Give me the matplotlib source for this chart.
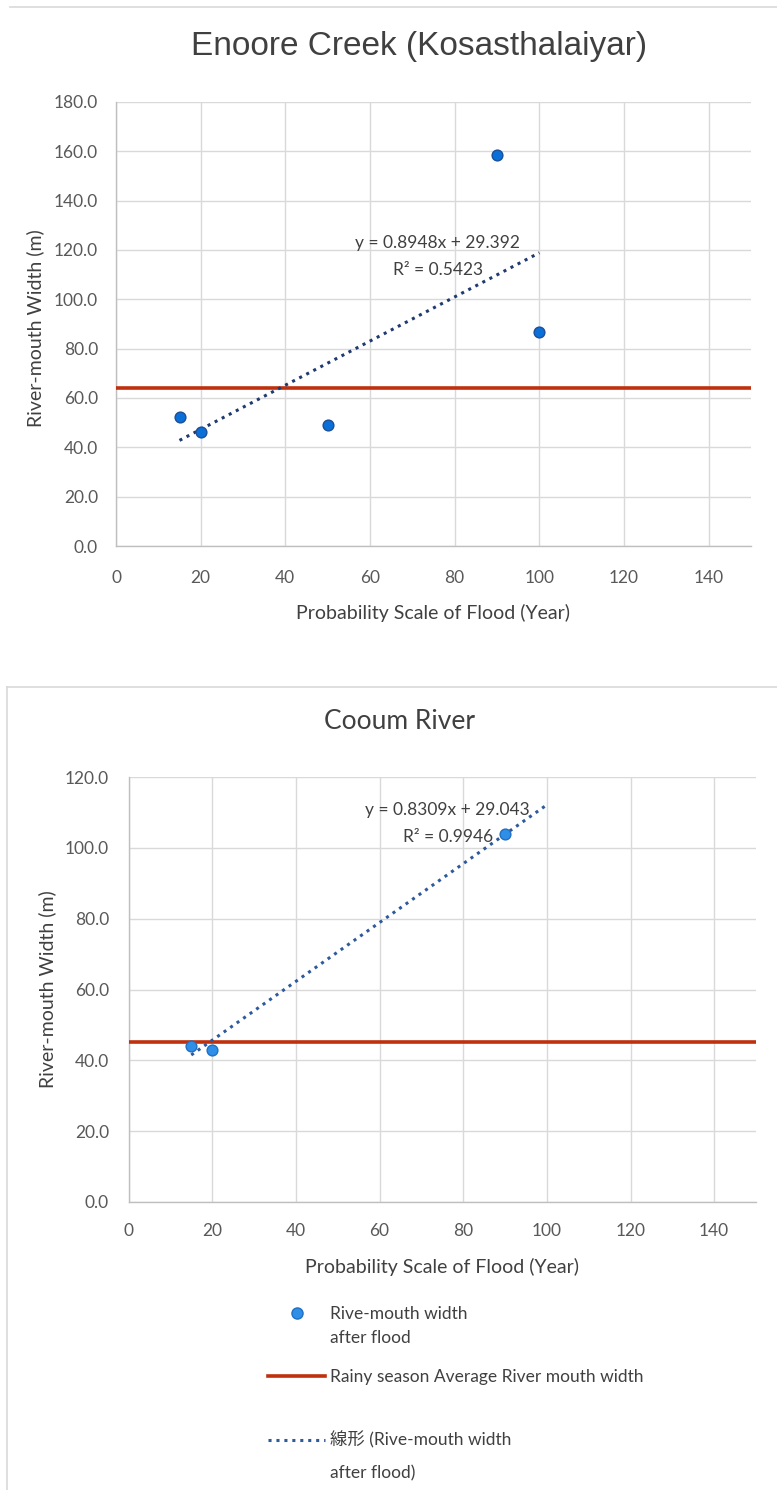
import matplotlib
matplotlib.use("Agg")
import matplotlib.pyplot as plt
from matplotlib.lines import Line2D
import numpy as np

# ---------------- data ----------------
enoore_x = [15, 20, 50, 90, 100]
enoore_y = [52.4, 46.3, 49.2, 158.5, 86.6]
enoore_avg = 64.0
enoore_slope = 0.8948
enoore_intercept = 29.392
enoore_eq = ["y = 0.8948x + 29.392", "R² = 0.5423"]

cooum_x = [15, 20, 90]
cooum_y = [44.0, 43.0, 104.0]
cooum_avg = 45.3
cooum_slope = 0.8309
cooum_intercept = 29.043
cooum_eq = ["y = 0.8309x + 29.043", "R² = 0.9946"]

x_ticks = [0, 20, 40, 60, 80, 100, 120, 140]
enoore_yticks = [0, 20, 40, 60, 80, 100, 120, 140, 160, 180]
cooum_yticks = [0, 20, 40, 60, 80, 100, 120]

xlabel = "Probability Scale of Flood (Year)"
ylabel = "River-mouth Width (m)"
legend_labels = ["Rive-mouth width", "Rainy season Average River mouth width",
                 "線形 (Rive-mouth width"]
legend_cont = ["after flood", "after flood)"]

# ---------------- styling ----------------
W, H = 777, 1490
FONT = ["Lato", "Noto Sans CJK JP", "DejaVu Sans"]
TXT = "#404040"
TICK = "#595959"
GRID = "#d9d9d9"
RED = "#C0300E"

fig = plt.figure(figsize=(W / 100, H / 100), dpi=100)
fig.patch.set_facecolor("white")


def fx(px):
    return px / W


def fy(py):
    return 1 - py / H


def style_axes(ax, yticks, ylim, ypad, xpad, xlabel_y):
    ax.set_xlim(0, 150)
    ax.set_ylim(*ylim)
    ax.set_xticks(x_ticks)
    ax.set_yticks(yticks)
    ax.set_yticklabels([f"{v:.1f}" for v in yticks])
    ax.set_xticklabels([str(v) for v in x_ticks])
    ax.grid(True, color=GRID, linewidth=1.0, zorder=0)
    ax.set_axisbelow(True)
    for s in ["top", "right"]:
        ax.spines[s].set_visible(False)
    for s in ["left", "bottom"]:
        ax.spines[s].set_color("#bfbfbf")
        ax.spines[s].set_linewidth(1.0)
    ax.tick_params(axis="both", length=0, labelsize=12.5, labelcolor=TICK)
    ax.tick_params(axis="y", pad=ypad)
    ax.tick_params(axis="x", pad=xpad)
    for lab in ax.get_xticklabels() + ax.get_yticklabels():
        lab.set_fontfamily(FONT)
    ax.set_xlabel(xlabel, fontsize=14, color=TXT, family=FONT, va="center")
    ax.xaxis.set_label_coords(0.5, xlabel_y)
    ax.set_ylabel(ylabel, fontsize=14, color=TXT, family=FONT, va="center")


# ---------------- top chart ----------------
ax1 = fig.add_axes([fx(116), fy(546), fx(751) - fx(116), fy(102) - fy(546)])
style_axes(ax1, enoore_yticks, (0, 180), 13, 17, -(613 - 546) / 444)
ax1.yaxis.set_label_coords(-(116 - 35) / 635, 0.49)
ax1.axhline(enoore_avg, color=RED, linewidth=2.6, zorder=3)
tx = np.array([min(enoore_x), max(enoore_x)])
ax1.plot(tx, enoore_slope * tx + enoore_intercept, color="#1F3A70",
         linestyle=(0, (1, 1.6)), linewidth=2.2, zorder=4)
ax1.scatter(enoore_x, enoore_y, s=60, color="#0A6FD6", edgecolor="#1A4F9A",
            linewidth=1.0, zorder=5)
ax1.text(76, 123, enoore_eq[0], ha="center", va="center", fontsize=12.5,
         color=TXT, family=FONT)
ax1.text(76, 112, enoore_eq[1], ha="center", va="center", fontsize=12.5,
         color=TXT, family=FONT)
fig.text(fx(419), fy(47), "Enoore Creek (Kosasthalaiyar)", ha="center",
         va="center", fontsize=24, color=TXT, family="Liberation Sans")

# ---------------- bottom chart ----------------
ax2 = fig.add_axes([fx(128.5), fy(1202), fx(756) - fx(128.5), fy(777) - fy(1202)])
style_axes(ax2, cooum_yticks, (0, 120), 14, 15, -(1267 - 1202) / 425)
ax2.yaxis.set_label_coords(-(128.5 - 47) / 627.5, 0.5)
ax2.axhline(cooum_avg, color=RED, linewidth=2.6, zorder=3)
tx2 = np.array([min(cooum_x), 100])
ax2.plot(tx2, cooum_slope * tx2 + cooum_intercept, color="#2E5A9C",
         linestyle=(0, (1, 1.6)), linewidth=2.2, zorder=4)
ax2.scatter(cooum_x, cooum_y, s=60, color="#2F8FE8", edgecolor="#2070C0",
            linewidth=1.0, zorder=5)
ax2.text(76.3, 110.7, cooum_eq[0], ha="center", va="center", fontsize=12.5,
         color=TXT, family=FONT)
ax2.text(76.3, 103.0, cooum_eq[1], ha="center", va="center", fontsize=12.5,
         color=TXT, family=FONT)
fig.text(fx(400), fy(722), "Cooum River", ha="center", va="center",
         fontsize=19, color=TXT, family=FONT)

# ---------------- legend (bottom) ----------------
h_marker = Line2D([], [], linestyle="none", marker="o", markersize=8,
                  markerfacecolor="#2F8FE8", markeredgecolor="#2070C0")
h_red = Line2D([], [], color=RED, linewidth=2.6)
h_dot = Line2D([], [], color="#2E5A9C", linestyle=(0, (1, 1.6)), linewidth=2.2)
leg_y = [1314, 1377, 1440]
for h, lab, yy in zip([h_marker, h_red, h_dot], legend_labels, leg_y):
    lg = fig.legend([h], [lab], loc="center left",
                    bbox_to_anchor=(fx(268), fy(yy)), frameon=False,
                    handlelength=3.3, handletextpad=0.3, borderpad=0,
                    borderaxespad=0,
                    prop=dict(family=FONT, size=12.5))
    for t in lg.get_texts():
        t.set_color(TXT)
for lab, yy in zip(legend_cont, [1338, 1473]):
    fig.text(fx(330), fy(yy), lab, ha="left", va="center", fontsize=12.5,
             color=TXT, family=FONT)

# ---------------- chart frames ----------------
fig.add_artist(Line2D([fx(10), fx(777)], [fy(7), fy(7)], color=GRID, linewidth=1.2))
fig.add_artist(Line2D([fx(7), fx(777)], [fy(687), fy(687)], color=GRID, linewidth=1.2))
fig.add_artist(Line2D([fx(7), fx(7)], [fy(687), fy(1490)], color=GRID, linewidth=1.2))

fig.savefig("out.png", dpi=100, facecolor="white")
